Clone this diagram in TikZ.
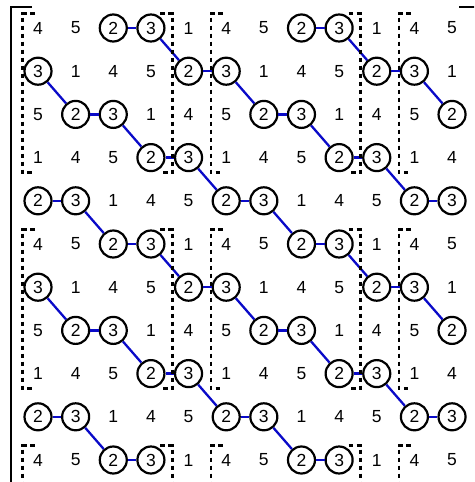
\documentclass[tikz,border=0pt]{standalone}
\usepackage{fontspec}
\setmainfont{Liberation Sans}
\definecolor{linkblue}{RGB}{10,10,200}
\begin{document}
\begin{tikzpicture}[x=1pt,y=-1pt,
  cell/.style={inner sep=0pt, font=\fontsize{17.5}{17.5}\selectfont},
  ring/.style={cell, circle, draw=black, line width=2.2pt, minimum size=27pt},
  link/.style={draw=linkblue, line width=2.3pt},
  blockline/.style={line width=2.3pt, dash pattern=on 4.5pt off 3.5pt},
  outer/.style={line width=2.4pt}]
\useasboundingbox (0,0) rectangle (474,482);
\clip (0,0) rectangle (474,482);
% outer matrix brackets
\draw[outer] (32,7) -- (11,7) -- (11,495);
\draw[outer] (459,7) -- (482,7) -- (482,495);
% cells
\foreach \r in {1,...,11}{
  \foreach \c in {1,...,12}{
    \pgfmathtruncatemacro\idx{mod(\c-1+3*(\r-1),5)}
    \pgfmathtruncatemacro\v{{4,5,2,3,1}[\idx]}
    \ifnum\v=2
      \node[ring] (n-\r-\c) at ({38+37.64*(\c-1)},{28+43.2*(\r-1)}) {\v};
    \else\ifnum\v=3
      \node[ring] (n-\r-\c) at ({38+37.64*(\c-1)},{28+43.2*(\r-1)}) {\v};
    \else
      \node[cell] (n-\r-\c) at ({38+37.64*(\c-1)},{28+43.2*(\r-1)}) {\v};
    \fi\fi
  }
}
% links
\foreach \r in {1,...,11}{
  \foreach \c in {1,...,11}{
    \pgfmathtruncatemacro\idx{mod(\c-1+3*(\r-1),5)}
    \pgfmathtruncatemacro\v{{4,5,2,3,1}[\idx]}
    \pgfmathtruncatemacro\cc{\c+1}
    \pgfmathtruncatemacro\rr{\r+1}
    \ifnum\v=2
      \draw[link] (n-\r-\c) -- (n-\r-\cc);
    \fi
    \ifnum\v=3
      \ifnum\r<11
        \draw[link] (n-\r-\c) -- (n-\rr-\cc);
      \fi
    \fi
  }
}
% dashed sub-blocks
\foreach \bx in {0,1,2}{
  \foreach \by in {0,1,2}{
    \pgfmathsetmacro\L{38+37.64*(5*\bx)-15.5}
    \pgfmathsetmacro\R{38+37.64*(5*\bx+3)+21.5}
    \pgfmathsetmacro\T{28+43.2*(5*\by)-14.5}
    \pgfmathsetmacro\B{28+43.2*(5*\by+3)+15}
    \draw[blockline] ({\L+12},\T) -- (\L,\T) -- (\L,\B) -- ({\L+12},\B);
    \draw[blockline] ({\R-12},\T) -- (\R,\T) -- (\R,\B) -- ({\R-12},\B);
  }
}
\end{tikzpicture}
\end{document}
